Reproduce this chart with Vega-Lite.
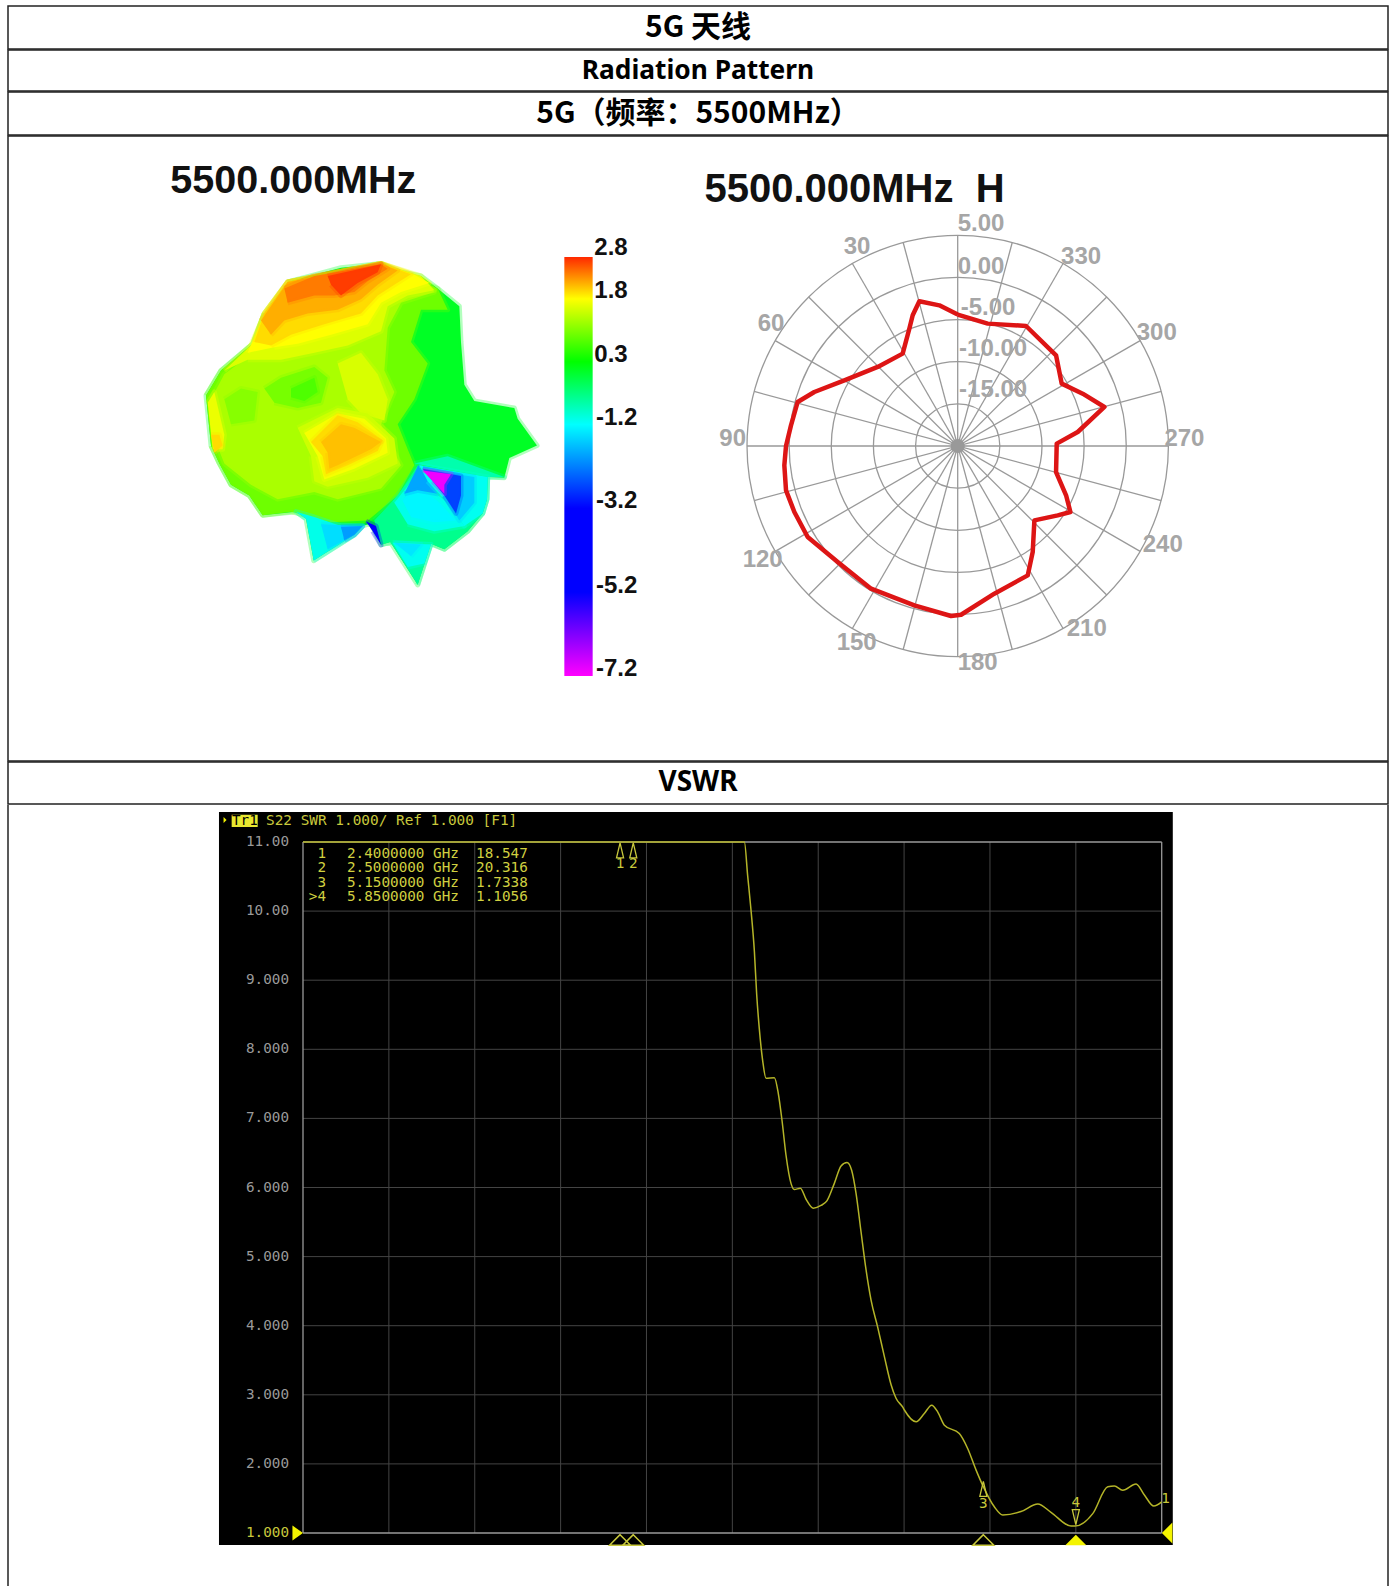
{"$schema":"https://vega.github.io/schema/vega-lite/v6.json","padding":{"left":7,"top":5,"right":0,"bottom":0},"background":"white","spacing":-2,"config":{"view":{"stroke":"#222","strokeWidth":1.5},"concat":{"spacing":0}},
"vconcat":[
{"width":1380,"height":43,"view":{"stroke":"#222","strokeWidth":1.5},"data":{"values":[{"t":"5G 天线"}]},"mark":{"type":"text","font":"Noto Sans CJK SC","fontWeight":"bold","fontSize":30,"color":"#000"},"encoding":{"text":{"field":"t"}}},
{"width":1380,"height":41,"view":{"stroke":"#222","strokeWidth":1.5},"data":{"values":[{"t":"Radiation Pattern"}]},"mark":{"type":"text","font":"Noto Sans","fontWeight":"bold","fontSize":26.3,"color":"#000"},"encoding":{"text":{"field":"t"}}},
{"width":1380,"height":43,"view":{"stroke":"#222","strokeWidth":1.5},"data":{"values":[{"t":"5G（频率：5500MHz）"}]},"mark":{"type":"text","font":"Noto Sans CJK SC","fontWeight":"bold","fontSize":30,"color":"#000"},"encoding":{"text":{"field":"t"}}},
{"width":1380,"height":625,"resolve":{"scale":{"x":"independent","y":"independent"}},"layer":[
{"layer":[
{"data":{"values":[
{"p":1,"g":0.25,"x":320,"y":392},{"p":1,"g":0.25,"x":400,"y":372},{"p":1,"g":0.25,"x":480,"y":352},{"p":1,"g":0.25,"x":600,"y":340},{"p":1,"g":0.25,"x":640,"y":360},{"p":1,"g":0.25,"x":720,"y":375},{"p":1,"g":0.25,"x":770,"y":410},{"p":1,"g":0.25,"x":835,"y":460},{"p":1,"g":0.25,"x":840,"y":560},{"p":1,"g":0.25,"x":850,"y":680},{"p":1,"g":0.25,"x":880,"y":725},{"p":1,"g":0.25,"x":1000,"y":745},{"p":1,"g":0.25,"x":1010,"y":775},{"p":1,"g":0.25,"x":1068,"y":850},{"p":1,"g":0.25,"x":985,"y":885},{"p":1,"g":0.25,"x":970,"y":940},{"p":1,"g":0.25,"x":920,"y":938},{"p":1,"g":0.25,"x":918,"y":1000},{"p":1,"g":0.25,"x":905,"y":1040},{"p":1,"g":0.25,"x":860,"y":1090},{"p":1,"g":0.25,"x":790,"y":1140},{"p":1,"g":0.25,"x":750,"y":1125},{"p":1,"g":0.25,"x":710,"y":1240},{"p":1,"g":0.25,"x":628,"y":1120},{"p":1,"g":0.25,"x":600,"y":1128},{"p":1,"g":0.25,"x":570,"y":1068},{"p":1,"g":0.25,"x":545,"y":1075},{"p":1,"g":0.25,"x":520,"y":1100},{"p":1,"g":0.25,"x":398,"y":1172},{"p":1,"g":0.25,"x":375,"y":1055},{"p":1,"g":0.25,"x":345,"y":1035},{"p":1,"g":0.25,"x":245,"y":1045},{"p":1,"g":0.25,"x":205,"y":990},{"p":1,"g":0.25,"x":150,"y":960},{"p":1,"g":0.25,"x":115,"y":900},{"p":1,"g":0.25,"x":90,"y":850},{"p":1,"g":0.25,"x":75,"y":710},{"p":1,"g":0.25,"x":120,"y":640},{"p":1,"g":0.25,"x":215,"y":565},{"p":1,"g":0.25,"x":250,"y":480},
{"p":2,"g":0.6,"x":75,"y":710},{"p":2,"g":0.6,"x":120,"y":640},{"p":2,"g":0.6,"x":215,"y":565},{"p":2,"g":0.6,"x":250,"y":480},{"p":2,"g":0.6,"x":320,"y":392},{"p":2,"g":0.6,"x":600,"y":340},{"p":2,"g":0.6,"x":770,"y":410},{"p":2,"g":0.6,"x":800,"y":470},{"p":2,"g":0.6,"x":720,"y":470},{"p":2,"g":0.6,"x":690,"y":560},{"p":2,"g":0.6,"x":740,"y":620},{"p":2,"g":0.6,"x":700,"y":720},{"p":2,"g":0.6,"x":650,"y":790},{"p":2,"g":0.6,"x":680,"y":860},{"p":2,"g":0.6,"x":700,"y":905},{"p":2,"g":0.6,"x":650,"y":990},{"p":2,"g":0.6,"x":560,"y":1060},{"p":2,"g":0.6,"x":450,"y":1065},{"p":2,"g":0.6,"x":330,"y":1035},{"p":2,"g":0.6,"x":245,"y":1045},{"p":2,"g":0.6,"x":205,"y":990},{"p":2,"g":0.6,"x":150,"y":960},{"p":2,"g":0.6,"x":115,"y":900},{"p":2,"g":0.6,"x":90,"y":850},
{"p":3,"g":1.0,"x":90,"y":720},{"p":3,"g":1.0,"x":130,"y":650},{"p":3,"g":1.0,"x":230,"y":580},{"p":3,"g":1.0,"x":270,"y":480},{"p":3,"g":1.0,"x":330,"y":400},{"p":3,"g":1.0,"x":600,"y":345},{"p":3,"g":1.0,"x":720,"y":385},{"p":3,"g":1.0,"x":760,"y":420},{"p":3,"g":1.0,"x":660,"y":450},{"p":3,"g":1.0,"x":620,"y":520},{"p":3,"g":1.0,"x":610,"y":640},{"p":3,"g":1.0,"x":640,"y":700},{"p":3,"g":1.0,"x":600,"y":790},{"p":3,"g":1.0,"x":640,"y":870},{"p":3,"g":1.0,"x":660,"y":905},{"p":3,"g":1.0,"x":600,"y":970},{"p":3,"g":1.0,"x":470,"y":1000},{"p":3,"g":1.0,"x":400,"y":980},{"p":3,"g":1.0,"x":290,"y":1000},{"p":3,"g":1.0,"x":210,"y":960},{"p":3,"g":1.0,"x":130,"y":900},{"p":3,"g":1.0,"x":100,"y":830},
{"p":4,"g":0.65,"x":250,"y":690},{"p":4,"g":0.65,"x":300,"y":660},{"p":4,"g":0.65,"x":400,"y":630},{"p":4,"g":0.65,"x":440,"y":660},{"p":4,"g":0.65,"x":420,"y":730},{"p":4,"g":0.65,"x":350,"y":745},{"p":4,"g":0.65,"x":280,"y":730},
{"p":5,"g":0.45,"x":330,"y":690},{"p":5,"g":0.45,"x":400,"y":660},{"p":5,"g":0.45,"x":410,"y":700},{"p":5,"g":0.45,"x":370,"y":725},{"p":5,"g":0.45,"x":330,"y":715},
{"p":6,"g":0.75,"x":130,"y":720},{"p":6,"g":0.75,"x":180,"y":690},{"p":6,"g":0.75,"x":230,"y":700},{"p":6,"g":0.75,"x":220,"y":780},{"p":6,"g":0.75,"x":150,"y":790},
{"p":7,"g":1.45,"x":130,"y":640},{"p":7,"g":1.45,"x":215,"y":565},{"p":7,"g":1.45,"x":250,"y":480},{"p":7,"g":1.45,"x":320,"y":392},{"p":7,"g":1.45,"x":600,"y":340},{"p":7,"g":1.45,"x":720,"y":375},{"p":7,"g":1.45,"x":760,"y":415},{"p":7,"g":1.45,"x":680,"y":430},{"p":7,"g":1.45,"x":620,"y":460},{"p":7,"g":1.45,"x":600,"y":530},{"p":7,"g":1.45,"x":500,"y":570},{"p":7,"g":1.45,"x":400,"y":590},{"p":7,"g":1.45,"x":300,"y":610},{"p":7,"g":1.45,"x":200,"y":610},
{"p":8,"g":1.8,"x":200,"y":590},{"p":8,"g":1.8,"x":250,"y":480},{"p":8,"g":1.8,"x":320,"y":392},{"p":8,"g":1.8,"x":600,"y":340},{"p":8,"g":1.8,"x":700,"y":372},{"p":8,"g":1.8,"x":745,"y":395},{"p":8,"g":1.8,"x":660,"y":420},{"p":8,"g":1.8,"x":600,"y":450},{"p":8,"g":1.8,"x":560,"y":510},{"p":8,"g":1.8,"x":450,"y":540},{"p":8,"g":1.8,"x":350,"y":565},{"p":8,"g":1.8,"x":280,"y":575},
{"p":9,"g":2.0,"x":220,"y":560},{"p":9,"g":2.0,"x":250,"y":480},{"p":9,"g":2.0,"x":320,"y":392},{"p":9,"g":2.0,"x":600,"y":340},{"p":9,"g":2.0,"x":690,"y":370},{"p":9,"g":2.0,"x":640,"y":400},{"p":9,"g":2.0,"x":590,"y":430},{"p":9,"g":2.0,"x":540,"y":480},{"p":9,"g":2.0,"x":430,"y":510},{"p":9,"g":2.0,"x":330,"y":540},{"p":9,"g":2.0,"x":270,"y":570},
{"p":10,"g":2.25,"x":240,"y":500},{"p":10,"g":2.25,"x":320,"y":392},{"p":10,"g":2.25,"x":600,"y":340},{"p":10,"g":2.25,"x":650,"y":360},{"p":10,"g":2.25,"x":590,"y":400},{"p":10,"g":2.25,"x":540,"y":440},{"p":10,"g":2.25,"x":470,"y":470},{"p":10,"g":2.25,"x":380,"y":480},{"p":10,"g":2.25,"x":310,"y":500},{"p":10,"g":2.25,"x":270,"y":540},
{"p":11,"g":2.5,"x":310,"y":410},{"p":11,"g":2.5,"x":400,"y":375},{"p":11,"g":2.5,"x":600,"y":342},{"p":11,"g":2.5,"x":620,"y":355},{"p":11,"g":2.5,"x":560,"y":390},{"p":11,"g":2.5,"x":520,"y":420},{"p":11,"g":2.5,"x":460,"y":430},{"p":11,"g":2.5,"x":400,"y":430},{"p":11,"g":2.5,"x":320,"y":450},
{"p":12,"g":2.75,"x":440,"y":375},{"p":12,"g":2.75,"x":600,"y":342},{"p":12,"g":2.75,"x":590,"y":365},{"p":12,"g":2.75,"x":530,"y":395},{"p":12,"g":2.75,"x":480,"y":430},{"p":12,"g":2.75,"x":450,"y":400},
{"p":13,"g":1.4,"x":470,"y":620},{"p":13,"g":1.4,"x":540,"y":590},{"p":13,"g":1.4,"x":590,"y":650},{"p":13,"g":1.4,"x":620,"y":720},{"p":13,"g":1.4,"x":610,"y":780},{"p":13,"g":1.4,"x":540,"y":760},{"p":13,"g":1.4,"x":500,"y":720},
{"p":14,"g":1.3,"x":350,"y":800},{"p":14,"g":1.3,"x":470,"y":745},{"p":14,"g":1.3,"x":560,"y":760},{"p":14,"g":1.3,"x":640,"y":830},{"p":14,"g":1.3,"x":650,"y":900},{"p":14,"g":1.3,"x":560,"y":940},{"p":14,"g":1.3,"x":440,"y":965},{"p":14,"g":1.3,"x":400,"y":950},{"p":14,"g":1.3,"x":390,"y":880},
{"p":15,"g":1.7,"x":370,"y":815},{"p":15,"g":1.7,"x":470,"y":760},{"p":15,"g":1.7,"x":550,"y":775},{"p":15,"g":1.7,"x":615,"y":830},{"p":15,"g":1.7,"x":620,"y":870},{"p":15,"g":1.7,"x":520,"y":915},{"p":15,"g":1.7,"x":430,"y":945},{"p":15,"g":1.7,"x":410,"y":880},
{"p":16,"g":2.0,"x":390,"y":840},{"p":16,"g":2.0,"x":470,"y":765},{"p":16,"g":2.0,"x":530,"y":785},{"p":16,"g":2.0,"x":605,"y":835},{"p":16,"g":2.0,"x":590,"y":865},{"p":16,"g":2.0,"x":500,"y":905},{"p":16,"g":2.0,"x":435,"y":930},{"p":16,"g":2.0,"x":425,"y":880},
{"p":17,"g":2.15,"x":420,"y":840},{"p":17,"g":2.15,"x":480,"y":790},{"p":17,"g":2.15,"x":520,"y":800},{"p":17,"g":2.15,"x":600,"y":840},{"p":17,"g":2.15,"x":570,"y":860},{"p":17,"g":2.15,"x":470,"y":905},{"p":17,"g":2.15,"x":445,"y":915},{"p":17,"g":2.15,"x":440,"y":870},
{"p":18,"g":1.6,"x":80,"y":730},{"p":18,"g":1.6,"x":100,"y":700},{"p":18,"g":1.6,"x":130,"y":820},{"p":18,"g":1.6,"x":125,"y":860},{"p":18,"g":1.6,"x":95,"y":860},
{"p":19,"g":2.0,"x":90,"y":820},{"p":19,"g":2.0,"x":115,"y":820},{"p":19,"g":2.0,"x":125,"y":850},{"p":19,"g":2.0,"x":100,"y":870},
{"p":20,"g":-0.4,"x":700,"y":900},{"p":20,"g":-0.4,"x":800,"y":880},{"p":20,"g":-0.4,"x":970,"y":938},{"p":20,"g":-0.4,"x":920,"y":938},
{"p":21,"g":-0.9,"x":375,"y":1055},{"p":21,"g":-0.9,"x":345,"y":1035},{"p":21,"g":-0.9,"x":400,"y":1050},{"p":21,"g":-0.9,"x":480,"y":1075},{"p":21,"g":-0.9,"x":545,"y":1075},{"p":21,"g":-0.9,"x":520,"y":1100},{"p":21,"g":-0.9,"x":398,"y":1172},
{"p":22,"g":-1.6,"x":420,"y":1070},{"p":22,"g":-1.6,"x":545,"y":1075},{"p":22,"g":-1.6,"x":520,"y":1100},{"p":22,"g":-1.6,"x":440,"y":1140},
{"p":23,"g":-2.3,"x":480,"y":1078},{"p":23,"g":-2.3,"x":545,"y":1075},{"p":23,"g":-2.3,"x":520,"y":1100},{"p":23,"g":-2.3,"x":490,"y":1115},
{"p":24,"g":-0.2,"x":580,"y":1060},{"p":24,"g":-0.2,"x":650,"y":990},{"p":24,"g":-0.2,"x":710,"y":905},{"p":24,"g":-0.2,"x":920,"y":938},{"p":24,"g":-0.2,"x":918,"y":1000},{"p":24,"g":-0.2,"x":905,"y":1040},{"p":24,"g":-0.2,"x":860,"y":1090},{"p":24,"g":-0.2,"x":790,"y":1140},{"p":24,"g":-0.2,"x":750,"y":1125},{"p":24,"g":-0.2,"x":628,"y":1120},{"p":24,"g":-0.2,"x":600,"y":1128},
{"p":25,"g":-0.9,"x":640,"y":1010},{"p":25,"g":-0.9,"x":700,"y":940},{"p":25,"g":-0.9,"x":800,"y":1010},{"p":25,"g":-0.9,"x":850,"y":1075},{"p":25,"g":-0.9,"x":760,"y":1090},{"p":25,"g":-0.9,"x":680,"y":1070},
{"p":26,"g":-1.3,"x":665,"y":1005},{"p":26,"g":-1.3,"x":700,"y":960},{"p":26,"g":-1.3,"x":770,"y":1005},{"p":26,"g":-1.3,"x":825,"y":1060},{"p":26,"g":-1.3,"x":760,"y":1065},{"p":26,"g":-1.3,"x":690,"y":1050},
{"p":27,"g":-2.2,"x":712,"y":905},{"p":27,"g":-2.2,"x":740,"y":945},{"p":27,"g":-2.2,"x":770,"y":985},{"p":27,"g":-2.2,"x":710,"y":975},{"p":27,"g":-2.2,"x":670,"y":985},
{"p":28,"g":-1.0,"x":715,"y":905},{"p":28,"g":-1.0,"x":920,"y":938},{"p":28,"g":-1.0,"x":918,"y":1000},{"p":28,"g":-1.0,"x":905,"y":1040},{"p":28,"g":-1.0,"x":850,"y":1075},{"p":28,"g":-1.0,"x":800,"y":1010},{"p":28,"g":-1.0,"x":740,"y":950},
{"p":29,"g":-1.8,"x":725,"y":915},{"p":29,"g":-1.8,"x":880,"y":938},{"p":29,"g":-1.8,"x":880,"y":1010},{"p":29,"g":-1.8,"x":835,"y":1060},{"p":29,"g":-1.8,"x":790,"y":990},
{"p":30,"g":-3.0,"x":725,"y":915},{"p":30,"g":-3.0,"x":840,"y":935},{"p":30,"g":-3.0,"x":840,"y":990},{"p":30,"g":-3.0,"x":825,"y":1040},{"p":30,"g":-3.0,"x":790,"y":990},
{"p":31,"g":-7.0,"x":725,"y":920},{"p":31,"g":-7.0,"x":810,"y":930},{"p":31,"g":-7.0,"x":790,"y":960},{"p":31,"g":-7.0,"x":790,"y":985},{"p":31,"g":-7.0,"x":755,"y":950},
{"p":32,"g":-0.3,"x":628,"y":1120},{"p":32,"g":-0.3,"x":750,"y":1125},{"p":32,"g":-0.3,"x":710,"y":1240},
{"p":33,"g":-1.0,"x":635,"y":1122},{"p":33,"g":-1.0,"x":750,"y":1127},{"p":33,"g":-1.0,"x":730,"y":1180},{"p":33,"g":-1.0,"x":680,"y":1190},
{"p":34,"g":-1.5,"x":640,"y":1122},{"p":34,"g":-1.5,"x":720,"y":1127},{"p":34,"g":-1.5,"x":690,"y":1160},
{"p":35,"g":-3.6,"x":555,"y":1062},{"p":35,"g":-3.6,"x":585,"y":1075},{"p":35,"g":-3.6,"x":600,"y":1128},{"p":35,"g":-3.6,"x":575,"y":1090}
]},"mark":{"type":"line","strokeWidth":5,"strokeOpacity":0.3,"strokeJoin":"round"},"encoding":{"x":{"field":"x","type":"quantitative","axis":null,"scale":{"nice":false,"domain":[0,1440],"range":[173,653]}},"y":{"field":"y","type":"quantitative","axis":null,"scale":{"nice":false,"domain":[0,1568],"range":[6,566]}},"detail":{"field":"p"},"order":{"value":null},"stroke":{"field":"g","type":"quantitative","legend":null,"scale":{"domain":[-7.2,-5.2,-3.2,-1.2,0.3,1.8,2.8],"range":["#ff00ff","#0000ff","#0000ff","#00ffff","#00ff00","#ffff00","#ff2800"]}},"fill":{"field":"g","type":"quantitative","legend":null,"scale":{"domain":[-7.2,-5.2,-3.2,-1.2,0.3,1.8,2.8],"range":["#ff00ff","#0000ff","#0000ff","#00ffff","#00ff00","#ffff00","#ff2800"]}}}},
{"data":{"values":[{"x":1150,"x2":1235,"y":322,"y2":1495}]},"mark":{"type":"rect","color":{"gradient":"linear","x1":0,"y1":0,"x2":0,"y2":1,"stops":[{"offset":0,"color":"#ff2800"},{"offset":0.1,"color":"#ffff00"},{"offset":0.25,"color":"#00ff00"},{"offset":0.4,"color":"#00ffff"},{"offset":0.6,"color":"#0000ff"},{"offset":0.8,"color":"#0000ff"},{"offset":1,"color":"#ff00ff"}]}},"encoding":{"x":{"field":"x","type":"quantitative"},"x2":{"field":"x2"},"y":{"field":"y","type":"quantitative"},"y2":{"field":"y2"}}},
{"data":{"values":[{"label":"5500.000MHz","x":337,"y":108}]},"mark":{"type":"text","font":"Liberation Sans","fontWeight":"bold","fontSize":39.5,"color":"#111"},"encoding":{"x":{"field":"x","type":"quantitative"},"y":{"field":"y","type":"quantitative"},"text":{"field":"label"}}},
{"data":{"values":[{"t":"2.8","x":1240,"y":298},{"t":"1.8","x":1240,"y":417},{"t":"0.3","x":1240,"y":597},{"t":"-1.2","x":1245,"y":772},{"t":"-3.2","x":1245,"y":1005},{"t":"-5.2","x":1245,"y":1243},{"t":"-7.2","x":1245,"y":1475}]},"mark":{"type":"text","align":"left","font":"Liberation Sans","fontWeight":"bold","fontSize":24,"color":"#111"},"encoding":{"x":{"field":"x","type":"quantitative"},"y":{"field":"y","type":"quantitative"},"text":{"field":"t"}}}
]},
{"layer":[
{"data":{"values":[{"r":5},{"r":10},{"r":15},{"r":20},{"r":25}]},"mark":{"type":"arc","theta":0,"theta2":6.2832,"filled":false,"fill":null,"stroke":"#999","strokeWidth":1.3},"encoding":{"x":{"datum":0,"type":"quantitative","axis":null,"scale":{"nice":false,"domain":[-25,25],"range":[739,1160.4]}},"y":{"datum":0,"type":"quantitative","axis":null,"scale":{"nice":false,"domain":[-25,25],"range":[520.7,99.3]}},"radius":{"field":"r","type":"quantitative","stack":null,"scale":{"type":"linear","domain":[0,25],"range":[0,210.7]},"legend":null}}},
{"data":{"values":[{"x":0,"y":25,"x2":0,"y2":-25},{"x":6.47,"y":24.15,"x2":-6.47,"y2":-24.15},{"x":12.5,"y":21.65,"x2":-12.5,"y2":-21.65},{"x":17.68,"y":17.68,"x2":-17.68,"y2":-17.68},{"x":21.65,"y":12.5,"x2":-21.65,"y2":-12.5},{"x":24.15,"y":6.47,"x2":-24.15,"y2":-6.47},{"x":25,"y":0,"x2":-25,"y2":0},{"x":24.15,"y":-6.47,"x2":-24.15,"y2":6.47},{"x":21.65,"y":-12.5,"x2":-21.65,"y2":12.5},{"x":17.68,"y":-17.68,"x2":-17.68,"y2":17.68},{"x":12.5,"y":-21.65,"x2":-12.5,"y2":21.65},{"x":6.47,"y":-24.15,"x2":-6.47,"y2":24.15}]},"mark":{"type":"rule","color":"#999","strokeWidth":1.3},"encoding":{"x":{"field":"x","type":"quantitative"},"y":{"field":"y","type":"quantitative"},"x2":{"field":"x2"},"y2":{"field":"y2"}}},
{"data":{"values":[{"x":0,"y":0}]},"mark":{"type":"point","filled":true,"color":"#999","size":200,"opacity":1},"encoding":{"x":{"field":"x","type":"quantitative"},"y":{"field":"y","type":"quantitative"}}},
{"data":{"values":[{"x":0,"y":15.59},{"x":-2.18,"y":16.69},{"x":-4.55,"y":17.17},{"x":-5.34,"y":15.51},{"x":-5.74,"y":13.92},{"x":-6.53,"y":10.96},{"x":-9.49,"y":9.38},{"x":-13.45,"y":7.79},{"x":-17.01,"y":6.41},{"x":-18.99,"y":5.22},{"x":-19.78,"y":2.45},{"x":-20.37,"y":0},{"x":-20.57,"y":-2.29},{"x":-20.37,"y":-5.26},{"x":-19.38,"y":-7.83},{"x":-17.8,"y":-10.8},{"x":-14.24,"y":-13.77},{"x":-10.28,"y":-16.93},{"x":-5.14,"y":-18.91},{"x":-0.79,"y":-20.17},{"x":0.4,"y":-20.02},{"x":4.35,"y":-17.52},{"x":8.31,"y":-15.35},{"x":8.9,"y":-12.58},{"x":9.1,"y":-8.82},{"x":11.87,"y":-8.23},{"x":13.37,"y":-7.83},{"x":12.86,"y":-5.85},{"x":11.67,"y":-3.09},{"x":11.75,"y":0.28},{"x":14.24,"y":1.66},{"x":17.41,"y":4.63},{"x":14.83,"y":6.21},{"x":12.34,"y":7.4},{"x":11.67,"y":10.76},{"x":8.11,"y":14.24},{"x":3.56,"y":14.52},{"x":0,"y":15.59}]},"mark":{"type":"line","color":"#dd1515","strokeWidth":4.5,"strokeJoin":"round"},"encoding":{"x":{"field":"x","type":"quantitative"},"y":{"field":"y","type":"quantitative"},"order":{"value":null}}},
{"data":{"values":[{"t":"5.00","x":2.77,"y":26.31},{"t":"0.00","x":2.77,"y":21.24},{"t":"-5.00","x":3.6,"y":16.38},{"t":"-10.00","x":4.2,"y":11.55},{"t":"-15.00","x":4.2,"y":6.61},{"t":"30","x":-11.95,"y":23.62},{"t":"330","x":14.64,"y":22.43},{"t":"60","x":-22.15,"y":14.52},{"t":"300","x":23.62,"y":13.45},{"t":"90","x":-26.7,"y":0.87},{"t":"270","x":26.9,"y":0.87},{"t":"120","x":-23.14,"y":-13.57},{"t":"240","x":24.33,"y":-11.71},{"t":"150","x":-11.99,"y":-23.34},{"t":"210","x":15.31,"y":-21.76},{"t":"180","x":2.37,"y":-25.71}]},"mark":{"type":"text","font":"Liberation Sans","fontSize":24,"fontWeight":"bold","color":"#a6a6a6"},"encoding":{"x":{"field":"x","type":"quantitative"},"y":{"field":"y","type":"quantitative"},"text":{"field":"t"}}},
{"data":{"values":[{"t":"5500.000MHz\u00a0\u00a0H","x":-12.24,"y":30.37}]},"mark":{"type":"text","font":"Liberation Sans","fontWeight":"bold","fontSize":40,"color":"#111"},"encoding":{"x":{"field":"x","type":"quantitative"},"y":{"field":"y","type":"quantitative"},"text":{"field":"t"}}}
]}
]},
{"width":1380,"height":42,"view":{"stroke":"#222","strokeWidth":1.5},"data":{"values":[{"t":"VSWR"}]},"mark":{"type":"text","font":"Noto Sans","fontWeight":"bold","fontSize":28,"color":"#000"},"encoding":{"text":{"field":"t"}}},
{"width":1380,"height":786,"view":{"stroke":null},"encoding":{"x":{"type":"quantitative","axis":null,"scale":{"nice":false,"domain":[0,6.5],"range":[295,1153.7]}},"y":{"type":"quantitative","axis":null,"scale":{"nice":false,"domain":[1,11],"range":[728,37]}}},
"layer":[
{"data":{"values":[{"f":-2.233},{"f":8.213}]},"mark":{"type":"rule","color":"#222","strokeWidth":1.5},"encoding":{"x":{"field":"f"},"y":{"datum":11.535},"y2":{"datum":0.13}}},
{"data":{"values":[{"f":-0.636,"f2":6.584,"s":11.434,"s2":0.826}]},"mark":{"type":"rect","color":"#000"},"encoding":{"x":{"field":"f"},"x2":{"field":"f2"},"y":{"field":"s"},"y2":{"field":"s2"}}},
{"data":{"values":[{"f":0.65},{"f":1.3},{"f":1.95},{"f":2.6},{"f":3.25},{"f":3.9},{"f":4.55},{"f":5.2},{"f":5.85}]},"mark":{"type":"rule","color":"#444","strokeWidth":1},"encoding":{"x":{"field":"f"},"y":{"datum":1},"y2":{"datum":11}}},
{"data":{"values":[{"s":2},{"s":3},{"s":4},{"s":5},{"s":6},{"s":7},{"s":8},{"s":9},{"s":10}]},"mark":{"type":"rule","color":"#444","strokeWidth":1},"encoding":{"y":{"field":"s"},"x":{"datum":0},"x2":{"datum":6.5}}},
{"data":{"values":[{"f":0},{"f":6.5}]},"mark":{"type":"rule","color":"#9a9a9a","strokeWidth":1.3},"encoding":{"x":{"field":"f"},"y":{"datum":1},"y2":{"datum":11}}},
{"data":{"values":[{"s":1},{"s":11}]},"mark":{"type":"rule","color":"#9a9a9a","strokeWidth":1.5},"encoding":{"y":{"field":"s"},"x":{"datum":0},"x2":{"datum":6.5}}},
{"data":{"values":[{"f":0,"s":11},{"f":3.341,"s":11},{"f":3.366,"s":10.51},{"f":3.391,"s":10.02},{"f":3.417,"s":9.41},{"f":3.434,"s":8.8},{"f":3.454,"s":8.3},{"f":3.48,"s":7.83},{"f":3.505,"s":7.58},{"f":3.568,"s":7.59},{"f":3.598,"s":7.36},{"f":3.626,"s":6.97},{"f":3.656,"s":6.47},{"f":3.694,"s":6.06},{"f":3.719,"s":5.97},{"f":3.765,"s":5.99},{"f":3.808,"s":5.83},{"f":3.863,"s":5.7},{"f":3.921,"s":5.74},{"f":3.967,"s":5.81},{"f":4.022,"s":6.06},{"f":4.073,"s":6.31},{"f":4.118,"s":6.36},{"f":4.153,"s":6.25},{"f":4.186,"s":5.92},{"f":4.224,"s":5.36},{"f":4.262,"s":4.81},{"f":4.3,"s":4.37},{"f":4.35,"s":3.98},{"f":4.4,"s":3.56},{"f":4.451,"s":3.15},{"f":4.489,"s":2.95},{"f":4.54,"s":2.82},{"f":4.552,"s":2.78},{"f":4.641,"s":2.61},{"f":4.703,"s":2.73},{"f":4.759,"s":2.85},{"f":4.805,"s":2.75},{"f":4.855,"s":2.56},{"f":4.968,"s":2.44},{"f":5.032,"s":2.22},{"f":5.095,"s":1.91},{"f":5.145,"s":1.69},{"f":5.233,"s":1.38},{"f":5.297,"s":1.26},{"f":5.435,"s":1.31},{"f":5.562,"s":1.42},{"f":5.662,"s":1.3},{"f":5.814,"s":1.1},{"f":5.844,"s":1.1},{"f":5.978,"s":1.28},{"f":6.092,"s":1.67},{"f":6.142,"s":1.68},{"f":6.205,"s":1.62},{"f":6.306,"s":1.71},{"f":6.369,"s":1.55},{"f":6.44,"s":1.39},{"f":6.5,"s":1.45}]},"mark":{"type":"line","color":"#b4b428","strokeWidth":1.5,"interpolate":"monotone"},"encoding":{"x":{"field":"f"},"y":{"field":"s"}}},
{"data":{"values":[{"t":"11.00","s":11},{"t":"10.00","s":10},{"t":"9.000","s":9},{"t":"8.000","s":8},{"t":"7.000","s":7},{"t":"6.000","s":6},{"t":"5.000","s":5},{"t":"4.000","s":4},{"t":"3.000","s":3},{"t":"2.000","s":2}]},"mark":{"type":"text","font":"DejaVu Sans Mono","fontSize":14.3,"align":"right","color":"#9a9a9a","dx":-14},"encoding":{"x":{"datum":0},"y":{"field":"s"},"text":{"field":"t"}}},
{"data":{"values":[{"t":"1.000","s":1}]},"mark":{"type":"text","font":"DejaVu Sans Mono","fontSize":14.3,"align":"right","color":"#c8c83c","dx":-14},"encoding":{"x":{"datum":0},"y":{"field":"s"},"text":{"field":"t"}}},
{"data":{"values":[{"f":-0.54,"f2":-0.343,"s":11.395,"s2":11.217}]},"mark":{"type":"rect","color":"#e8e830"},"encoding":{"x":{"field":"f"},"x2":{"field":"f2"},"y":{"field":"s"},"y2":{"field":"s2"}}},
{"data":{"values":[{"t":"Tr1","f":-0.44,"s":11.3}]},"mark":{"type":"text","font":"DejaVu Sans Mono","fontSize":14.3,"color":"#000"},"encoding":{"x":{"field":"f"},"y":{"field":"s"},"text":{"field":"t"}}},
{"data":{"values":[{"t":"S22\u00a0SWR\u00a01.000/\u00a0Ref\u00a01.000\u00a0[F1]","f":-0.28,"s":11.3}]},"mark":{"type":"text","font":"DejaVu Sans Mono","fontSize":14.4,"align":"left","color":"#c8c83c"},"encoding":{"x":{"field":"f"},"y":{"field":"s"},"text":{"field":"t"}}},
{"data":{"values":[{"t":"1","s":10.82},{"t":"2","s":10.62},{"t":"3","s":10.41},{"t":">4","s":10.2}]},"mark":{"type":"text","font":"DejaVu Sans Mono","fontSize":14.3,"align":"right","color":"#d0d040"},"encoding":{"x":{"datum":0.174},"y":{"field":"s"},"text":{"field":"t"}}},
{"data":{"values":[{"t":"2.4000000\u00a0GHz\u00a0\u00a018.547","s":10.82},{"t":"2.5000000\u00a0GHz\u00a0\u00a020.316","s":10.62},{"t":"5.1500000\u00a0GHz\u00a0\u00a01.7338","s":10.41},{"t":"5.8500000\u00a0GHz\u00a0\u00a01.1056","s":10.2}]},"mark":{"type":"text","font":"DejaVu Sans Mono","fontSize":14.3,"align":"left","color":"#d0d040"},"encoding":{"x":{"datum":0.333},"y":{"field":"s"},"text":{"field":"t"}}},
{"data":{"values":[{"f":2.4,"s":10.88},{"f":2.5,"s":10.88},{"f":5.15,"s":1.64}]},"mark":{"type":"point","shape":"M0,-1L0.47,1L-0.47,1Z","size":225,"filled":false,"color":"#c8c83c","opacity":1,"strokeWidth":1.3},"encoding":{"x":{"field":"f"},"y":{"field":"s"}}},
{"data":{"values":[{"f":5.85,"s":1.23}]},"mark":{"type":"point","shape":"M-0.47,-1L0.47,-1L0,1Z","size":225,"filled":false,"color":"#c8c83c","opacity":1,"strokeWidth":1.3},"encoding":{"x":{"field":"f"},"y":{"field":"s"}}},
{"data":{"values":[{"t":"1","f":2.4,"s":10.68},{"t":"2","f":2.5,"s":10.68},{"t":"3","f":5.15,"s":1.42},{"t":"4","f":5.85,"s":1.44},{"t":"1","f":6.53,"s":1.49}]},"mark":{"type":"text","font":"DejaVu Sans Mono","fontSize":14.3,"color":"#c8c83c"},"encoding":{"x":{"field":"f"},"y":{"field":"s"},"text":{"field":"t"}}},
{"data":{"values":[{"f":2.4,"s":0.9},{"f":2.5,"s":0.9},{"f":5.15,"s":0.9}]},"mark":{"type":"point","shape":"M0,-0.5L1,0.5L-1,0.5Z","size":441,"filled":false,"color":"#c8c83c","opacity":1,"strokeWidth":1.5},"encoding":{"x":{"field":"f"},"y":{"field":"s"}}},
{"data":{"values":[{"f":5.85,"s":0.9}]},"mark":{"type":"point","shape":"M0,-0.5L1,0.5L-1,0.5Z","size":441,"filled":true,"color":"#f4f400","opacity":1},"encoding":{"x":{"field":"f"},"y":{"field":"s"}}},
{"data":{"values":[{"f":-0.04,"s":1}]},"mark":{"type":"point","shape":"M-0.7,-1L0.7,0L-0.7,1Z","size":225,"filled":true,"color":"#f4f400","opacity":1},"encoding":{"x":{"field":"f"},"y":{"field":"s"}}},
{"data":{"values":[{"f":6.541,"s":1}]},"mark":{"type":"point","shape":"M0.5,-1L-0.5,0L0.5,1Z","size":441,"filled":true,"color":"#f4f400","opacity":1},"encoding":{"x":{"field":"f"},"y":{"field":"s"}}},
{"data":{"values":[{"f":-0.59,"s":11.32}]},"mark":{"type":"point","shape":"M-0.5,-1L0.5,0L-0.5,1Z","size":36,"filled":true,"color":"#f4f400","opacity":1},"encoding":{"x":{"field":"f"},"y":{"field":"s"}}}
]}
]}
